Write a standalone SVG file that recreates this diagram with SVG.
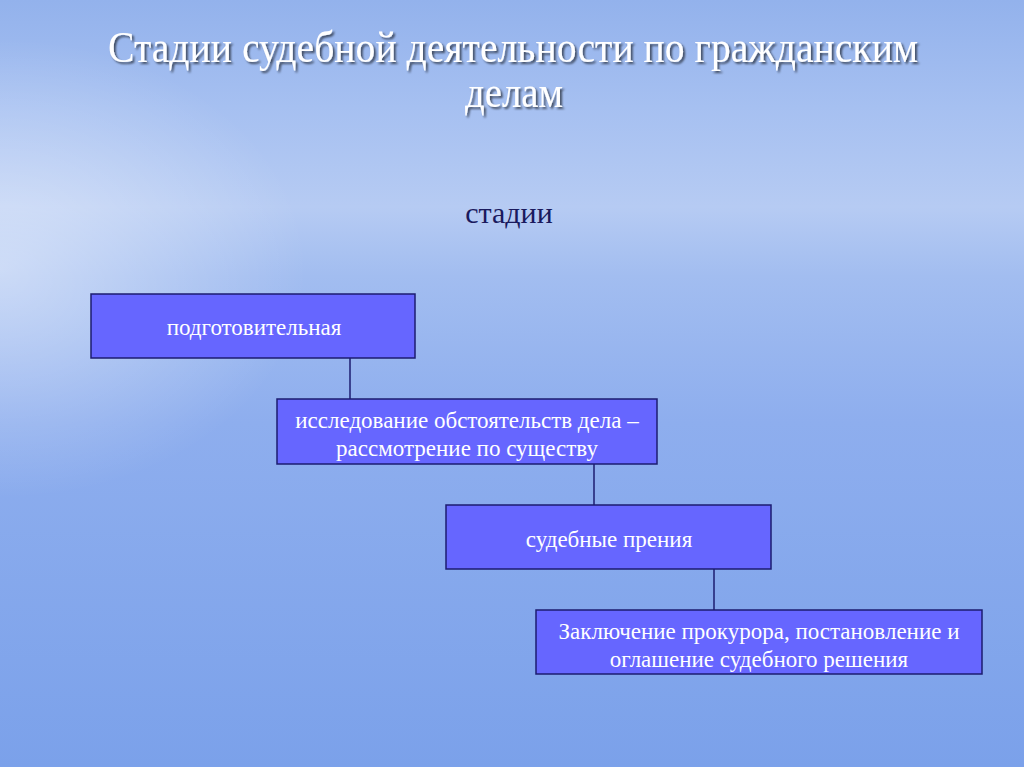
<svg xmlns="http://www.w3.org/2000/svg" width="1024" height="767" viewBox="0 0 1024 767">
<defs>
<linearGradient id="bg" x1="0" y1="0" x2="0" y2="1">
<stop offset="0" stop-color="#93b2ec"/>
<stop offset="0.14" stop-color="#a6c0f1"/>
<stop offset="0.27" stop-color="#b6cbf3"/>
<stop offset="0.36" stop-color="#a2bdf0"/>
<stop offset="0.55" stop-color="#8eaeee"/>
<stop offset="1" stop-color="#7ba1ea"/>
</linearGradient>
<radialGradient id="haze" cx="0" cy="0.35" r="0.3">
<stop offset="0" stop-color="#ffffff" stop-opacity="0.45"/>
<stop offset="1" stop-color="#ffffff" stop-opacity="0"/>
</radialGradient>
<filter id="sh" filterUnits="userSpaceOnUse" x="0" y="0" width="1024" height="140">
<feDropShadow dx="2" dy="2" stdDeviation="1" flood-color="#000" flood-opacity="0.6"/>
</filter>
<style>
.box{fill:#6666ff;stroke:#1c1c70;stroke-width:1.5}
.lbl{font-family:"Liberation Serif","Times New Roman",serif;font-size:23px;fill:#ffffff;text-anchor:middle}
.ttl{font-family:"Liberation Serif","Times New Roman",serif;font-size:44px;fill:#ffffff;text-anchor:middle}
.con{stroke:#1c1c70;stroke-width:1.5;fill:none}
</style>
</defs>
<rect width="1024" height="767" fill="url(#bg)"/>
<rect width="1024" height="767" fill="url(#haze)"/>
<g id="title" filter="url(#sh)">
<text class="ttl" x="513" y="62" textLength="810" lengthAdjust="spacingAndGlyphs">Стадии судебной деятельности по гражданским</text>
<text class="ttl" x="514" y="107" textLength="98" lengthAdjust="spacingAndGlyphs">делам</text>
</g>
<text id="subtitle" x="509" y="223" font-family="Liberation Serif, Times New Roman, serif" font-size="30" fill="#1a1a5e" text-anchor="middle">стадии</text>
<g id="connectors">
<line class="con" x1="350" y1="358" x2="350" y2="399"/>
<line class="con" x1="594" y1="464" x2="594" y2="505"/>
<line class="con" x1="714" y1="569" x2="714" y2="610"/>
</g>
<g id="n1">
<rect class="box" x="91" y="294" width="324" height="64"/>
<text class="lbl" x="254" y="335">подготовительная</text>
</g>
<g id="n2">
<rect class="box" x="277" y="399" width="380" height="65"/>
<text class="lbl" x="467" y="428">исследование обстоятельств дела –</text>
<text class="lbl" x="467" y="456">рассмотрение по существу</text>
</g>
<g id="n3">
<rect class="box" x="446" y="505" width="325" height="64"/>
<text class="lbl" x="609" y="547">судебные прения</text>
</g>
<g id="n4">
<rect class="box" x="536" y="610" width="446" height="64"/>
<text class="lbl" x="759" y="639">Заключение прокурора, постановление и</text>
<text class="lbl" x="759" y="667">оглашение судебного решения</text>
</g>
</svg>
